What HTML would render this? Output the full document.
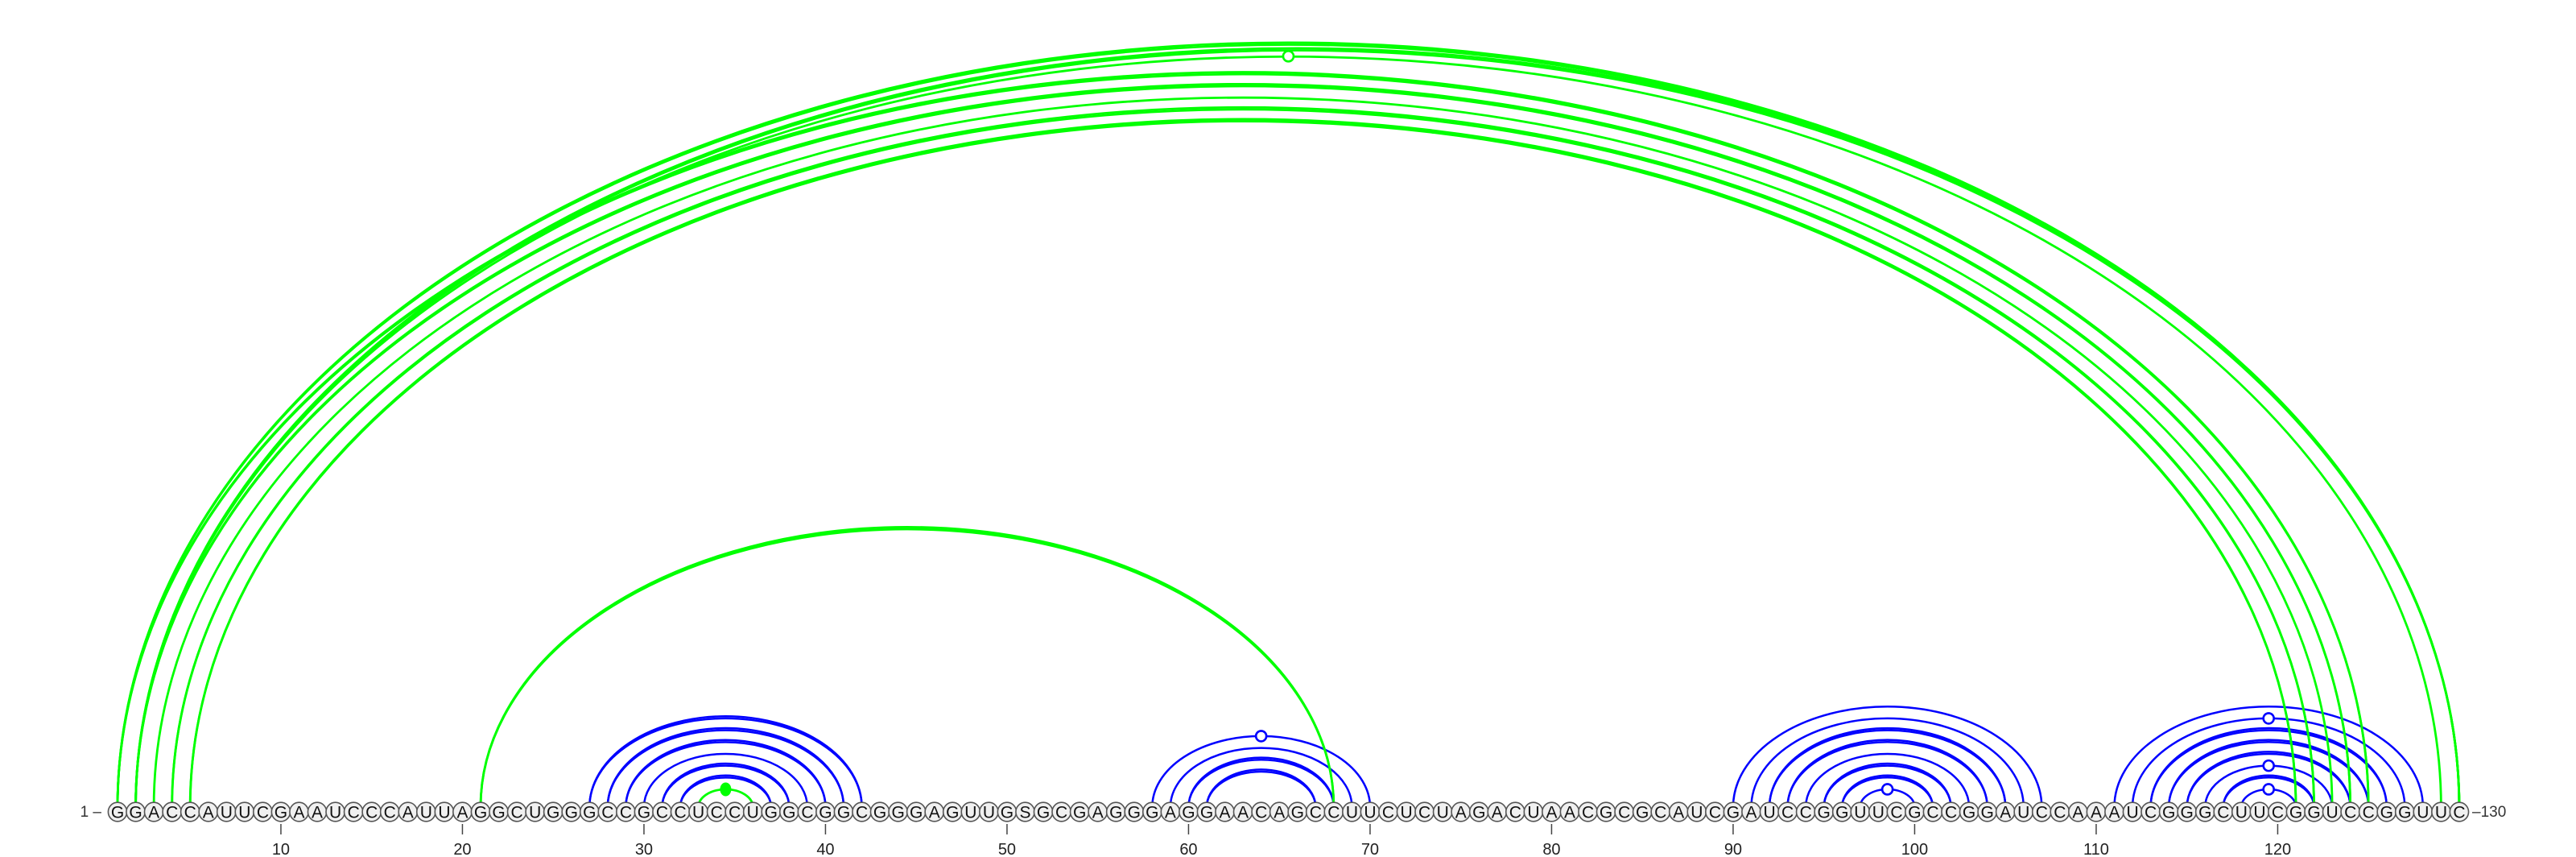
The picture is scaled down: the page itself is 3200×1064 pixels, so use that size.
<!DOCTYPE html>
<html><head><meta charset="utf-8"><style>
html,body{margin:0;padding:0;background:#fff;}
svg{display:block;font-family:"Liberation Sans",sans-serif;}
</style></head><body>
<svg id="chart" width="3200" height="1064" viewBox="0 0 3200 1064" xmlns="http://www.w3.org/2000/svg">
<g id="arcs"></g>
<g id="nodes"></g>
<g id="axis"></g>
</svg>
<script>
const sequence = "GGACCAUUCGAAUCCCAUUAGGCUGGGCCGCCUCCUGGCGGCGGGAGUUGSGCGAGGGAGGAACAGCCUUCUCUAGACUAACGCGCAUCGAUCCGGUUCGCCGGAUCCAAAUCGGGCUUCGGUCCGGUUC";
const pairI = [27,28,29,30,31,32, 58,59,60,61, 90,91,92,93,94,95,96,97, 111,112,113,114,115,116,117,118, 33, 21, 1,2,2, 1,2,3,4,5];
const pairJ = [42,41,40,39,38,37, 70,69,68,67, 107,106,105,104,103,102,101,100, 128,127,126,125,124,123,122,121, 36, 68, 130,130,129, 125,124,123,122,121];
const pairColor = ["b","b","b","b","b","b", "b","b","b","b", "b","b","b","b","b","b","b","b", "b","b","b","b","b","b","b","b", "g","g", "g","g","g","g","g","g","g","g"];
const pairDouble = [1,1,1,0,1,1, 0,0,1,1, 0,0,1,1,0,1,1,0, 0,0,1,1,1,0,1,0, 0,1, 1,1,0, 1,1,0,1,1];
const pairDot = ["","","","","","", "o","","","", "","","","","","","","o", "","o","","","","o","","o", "f","", "","","o", "","","","",""];
const tickLabels = [10,20,30,40,50,60,70,80,90,100,110,120];

const NS = "http://www.w3.org/2000/svg";
const x0 = 146, dx = 22.55, yArc = 1002, yNode = 1008, ratio = 0.651;
function xOf(i){ return x0 + dx*(i-1); }
function mk(tag, attrs, parent){ const e=document.createElementNS(NS,tag); for(const k in attrs) e.setAttribute(k,attrs[k]); parent.appendChild(e); return e; }
const colors = {b:"#0000ff", g:"#00ff00"};
const arcsG = document.getElementById("arcs");
for(let k=0;k<pairI.length;k++){
  const x1=xOf(pairI[k]), x2=xOf(pairJ[k]);
  const rx=(x2-x1)/2, ry=rx*ratio;
  const col=colors[pairColor[k]], w=pairColor[k]==="g"?2.8:2.5;
  const reps = pairDouble[k]?[0,2.6]:[0];
  for(const off of reps){
    const p=mk("path",{d:`M${x1},${yArc} A${rx},${ry+off} 0 0 1 ${x2},${yArc}`,fill:"none",stroke:col,"stroke-width":w},arcsG);
    
    
  }
  if(pairDot[k]){
    const cx=(x1+x2)/2, cy=yArc-ry;
    const d = pairDot[k]==="f" ? mk("ellipse",{cx:cx,cy:cy,rx:6.5,ry:8,fill:col,stroke:col,"stroke-width":1},arcsG)
                               : mk("circle",{cx:cx,cy:cy,r:6.5,fill:"#fff",stroke:col,"stroke-width":2.6},arcsG);
    
    
  }
}
const nodesG = document.getElementById("nodes");
for(let i=1;i<=sequence.length;i++){
  const x=xOf(i);
  const c=mk("ellipse",{cx:x,cy:yNode,rx:11.6,ry:11.8,fill:"#f0f0f0",stroke:"#555","stroke-width":1.6},nodesG);
  
  
  const t=mk("text",{x:x,y:yNode+7.5,"text-anchor":"middle","font-size":21,fill:"#111"},nodesG);
  t.textContent=sequence[i-1];
  
  
}
const axisG = document.getElementById("axis");
const sl=mk("text",{x:126,y:1014,"text-anchor":"end","font-size":19,fill:"#333"},axisG);
sl.textContent="1 –";


const el=mk("text",{x:3071,y:1014,"text-anchor":"start","font-size":19,fill:"#333"},axisG);
el.textContent="–130";


for(const v of tickLabels){
  const x=xOf(v);
  const tk=mk("line",{x1:x,y1:1023,x2:x,y2:1036,stroke:"#444","stroke-width":1.5},axisG);
  
  
  const tl=mk("text",{x:x,y:1061,"text-anchor":"middle","font-size":20,fill:"#222"},axisG);
  tl.textContent=String(v);
  
  
}
</script>
</body></html>
